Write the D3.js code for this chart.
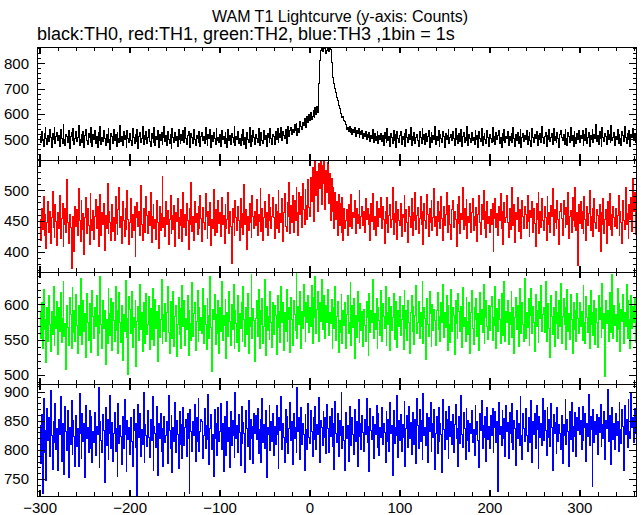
<!DOCTYPE html>
<html><head><meta charset="utf-8">
<script src="https://cdn.jsdelivr.net/npm/d3@7"></script>
<style>html,body{margin:0;padding:0;background:#fff}svg{display:block}</style>
</head><body><svg id="c" width="643" height="515"></svg>
<script>
// time bins: 1 bin = 1 s, first bin at t = -300 s
const binStart = -300;
const binSize = 1;

// TH0 (black) counts per bin
const th0 = [
512,488,531,495,470,523,548,501,479,515,492,537,506,468,521,498,545,483,510,527,
494,516,472,539,503,485,558,497,476,520,509,488,534,463,511,526,495,542,481,504,
529,491,507,553,474,498,517,486,532,469,513,540,496,480,522,505,489,547,471,518,
500,536,483,512,466,527,494,551,479,508,490,533,502,475,519,487,544,498,461,524,
509,482,538,495,517,471,528,503,486,556,492,511,477,530,499,515,468,535,504,489,
521,496,474,543,508,483,519,492,537,465,510,527,488,502,549,478,514,497,532,485,
506,539,491,470,524,503,487,545,476,512,498,534,469,517,493,528,481,507,552,490,
515,477,531,499,484,520,463,541,505,488,526,494,511,473,538,500,482,519,496,533,
487,548,502,478,513,529,491,466,522,507,485,540,497,475,516,503,488,530,471,511,
525,493,509,482,546,498,474,518,504,537,469,514,490,527,501,480,543,495,508,486,
519,472,535,497,511,484,528,502,467,540,493,516,479,523,505,489,550,476,510,498,
531,485,503,474,520,496,539,481,508,463,526,500,487,545,472,514,492,533,506,478,
517,501,489,541,476,509,527,494,482,536,498,515,470,523,507,488,544,501,479,520,
512,478,531,497,541,489,521,506,548,493,529,515,501,538,484,524,552,510,533,546,
519,540,527,557,535,562,514,544,528,571,549,538,566,553,582,559,545,588,567,596,
574,605,579,591,612,586,625,598,630,607,718,812,852,868,846,872,858,865,839,851,
862,848,870,855,803,771,742,719,701,683,664,651,632,621,603,598,584,591,573,569,
557,539,548,532,551,526,543,519,537,528,546,512,534,522,541,508,529,517,536,503,
524,511,532,498,519,506,527,491,515,502,538,487,521,495,509,530,484,513,499,522,
490,516,475,527,503,489,541,496,512,470,523,507,482,535,494,518,467,529,501,486,
514,532,480,509,497,522,473,538,505,488,517,499,545,476,511,493,526,484,507,520,
496,471,529,508,485,543,500,517,478,523,491,512,534,469,506,527,489,515,498,552,
481,510,495,536,472,519,504,488,531,509,466,524,497,513,540,482,507,520,493,529,
502,477,544,499,516,485,521,492,537,470,511,528,487,506,495,549,474,518,503,489,
526,494,508,481,533,500,515,468,529,504,490,541,476,512,523,497,483,536,507,471,
518,503,487,545,492,510,478,527,499,514,535,482,506,469,522,495,540,488,511,501,
531,476,509,493,524,486,548,502,473,517,496,528,484,512,539,467,505,521,490,514,
499,536,480,511,527,494,470,543,508,489,519,502,532,475,513,497,524,486,550,505,
482,509,525,471,516,498,537,490,506,521,478,544,495,510,486,528,503,467,519,534,
507,493,518,480,539,501,474,526,512,488,547,496,515,472,530,505,484,521,499,536,
489,514,502,533,477,520,496,541,483,508,525,470,513,498,537,486,519,504,560,492,
516,481,529,503,472,545,507,490,522,511,478,534,499,517,486,553,495,508,528,474,
510,497,538,485,519,502,476,531,513,491,549,505,482,524,500,536,471,518,507,543,
494,521,486,512];

// TH1 (red) counts per bin
const th1 = [
452,418,471,436,489,427,460,405,447,482,431,466,413,455,498,440,423,476,449,410,
463,437,492,421,454,479,408,445,470,432,517,448,414,461,439,372,425,457,401,474,
441,469,427,503,450,416,483,436,462,395,456,488,429,471,443,412,495,452,434,467,
420,458,485,438,473,409,451,493,426,464,444,478,402,459,437,511,430,466,447,418,
476,433,455,419,490,446,428,468,505,439,457,414,482,450,424,471,436,499,453,411,
448,486,423,461,435,474,392,456,480,441,465,427,508,444,418,470,451,432,489,459,
429,466,443,497,415,458,476,438,452,420,484,447,406,473,435,462,522,440,456,425,
481,444,467,412,453,491,430,459,436,475,408,463,449,487,422,455,442,468,416,496,
439,460,426,478,450,403,470,445,513,433,457,419,482,448,462,428,474,437,491,454,
417,472,447,436,495,458,421,465,443,480,410,452,438,501,426,469,455,431,484,446,
463,425,488,444,459,414,476,437,452,497,430,466,441,381,470,448,426,483,456,434,
474,451,419,486,440,462,428,510,445,468,404,457,435,479,447,423,491,458,438,466,
443,485,427,461,449,502,433,470,418,456,481,439,464,426,493,451,472,437,458,488,
455,421,477,438,466,499,431,462,448,487,416,463,495,441,433,480,457,512,429,475,
448,491,432,483,451,505,464,427,497,460,489,439,511,468,444,501,475,452,518,472,
458,521,482,537,449,515,548,491,530,466,544,502,553,477,540,511,558,469,532,497,
545,478,527,451,519,466,505,438,497,452,481,426,493,442,478,431,488,419,470,437,
450,468,427,476,441,459,493,438,464,455,483,429,470,446,461,499,437,457,474,443,
466,432,487,452,471,445,460,419,478,449,495,436,458,427,481,463,441,470,455,488,
437,473,452,414,466,446,488,431,459,476,440,453,504,428,462,447,482,420,469,451,
443,478,425,461,455,492,433,468,447,415,474,457,439,486,426,463,450,497,436,459,
472,430,454,489,445,466,412,479,451,438,493,460,424,471,448,483,435,456,502,441,
458,426,481,449,465,437,490,454,418,473,443,461,496,432,457,475,445,420,468,484,
439,466,452,408,477,446,489,429,462,453,505,436,470,442,485,421,458,447,479,431,
464,487,434,457,443,472,417,460,491,448,428,476,452,499,437,465,423,481,446,458,
431,469,445,478,400,454,486,439,462,427,473,450,495,438,465,411,480,448,456,492,
447,423,471,436,459,504,442,477,415,464,452,488,433,468,445,421,483,457,437,474,
461,438,492,449,424,467,455,481,432,470,446,409,478,453,497,429,466,440,486,451,
435,473,456,418,490,444,463,431,475,457,502,426,469,448,437,484,452,412,466,479,
454,427,483,461,439,472,445,496,422,458,467,431,488,450,441,505,435,463,377,476,
446,481,437,465,429,490,453,418,474,442,462,499,434,457,471,425,486,448,438,468,
459,433,476,401,464,445,487,429,452,469,414,481,443,495,436,461,427,473,455,441,
470,438,459,492,427,466,448,414,483,451,436,505,444,462,421,477,452,488,433,519,
466,497,428,512];

// TH2 (green) counts per bin
const th2 = [
588,552,603,537,621,564,579,518,596,548,612,571,533,590,557,626,541,583,566,604,
529,595,562,617,546,580,633,555,573,508,599,567,541,610,585,538,624,560,592,547,
614,570,531,598,556,637,579,543,606,562,587,524,615,575,549,601,568,532,620,583,
551,596,569,613,527,584,559,640,572,538,605,566,591,515,578,545,622,587,556,609,
535,603,577,548,626,563,592,530,617,574,546,599,521,586,561,634,553,580,501,611,
593,558,619,539,582,567,605,512,576,597,549,628,564,588,533,602,571,545,615,557,
572,611,536,594,550,623,581,541,607,566,590,519,599,553,578,636,544,586,562,601,
547,589,625,560,531,604,575,552,618,540,583,598,526,571,610,557,594,537,627,569,
606,541,580,565,612,528,592,573,549,631,555,587,603,535,576,620,548,596,563,582,
558,622,545,598,571,536,609,584,552,640,567,505,593,578,614,543,586,559,605,530,
595,561,632,549,584,570,607,523,589,554,618,576,541,600,565,628,537,591,573,546,
612,533,587,566,603,548,625,579,540,596,557,615,531,582,569,642,552,594,577,519,
580,605,554,621,538,591,572,609,545,568,636,527,597,563,583,550,618,574,539,602,
557,599,584,529,613,567,590,546,626,575,603,535,588,562,621,548,579,595,532,610,
578,541,606,586,563,645,551,597,572,619,538,590,566,628,583,547,602,574,612,560,
595,568,627,544,610,581,640,559,593,618,547,602,576,636,565,588,613,551,598,574,
621,556,589,573,607,538,595,566,625,549,583,604,532,577,560,614,545,591,570,603,
537,586,612,558,575,631,542,598,567,609,523,584,553,619,576,546,601,563,590,540,
593,570,547,604,581,528,616,560,592,574,635,551,587,565,608,538,596,577,556,620,
548,601,583,566,625,542,589,571,610,534,597,563,582,615,550,578,604,539,592,569,
611,556,579,598,536,620,566,591,549,606,574,530,588,613,561,597,543,584,627,558,
575,604,551,589,568,632,545,596,580,522,609,571,555,618,587,540,600,563,593,577,
541,592,617,564,583,548,603,575,628,553,588,567,612,535,599,572,546,621,562,595,
584,529,606,573,552,615,590,561,597,539,624,569,582,548,610,576,557,603,531,588,
620,566,543,596,578,609,554,587,535,617,572,593,560,628,545,581,605,568,550,599,
563,597,611,549,582,570,626,538,594,561,607,578,544,615,585,556,633,547,590,574,
606,543,588,572,619,553,596,530,581,610,564,599,540,623,577,558,602,571,548,637,
552,589,567,608,541,584,622,559,597,575,533,614,568,591,546,604,580,627,562,586,
595,560,633,548,578,601,566,525,612,583,557,596,540,618,573,589,551,606,569,630,
544,583,608,571,596,536,621,562,587,550,614,578,531,603,565,592,547,616,580,558,
603,568,590,549,627,574,545,611,582,560,598,537,620,571,588,556,606,543,594,575,
539,612,578,596,553,630,566,587,497,605,573,591,548,617,581,560,643,552,599,570,
586,547,622,564,601,533,593,576,614,545,589,568,628,551,605,579,538,612,566,597,
574,610,546,589];

// TH3 (blue) counts per bin
const th3 = [
842,776,861,726,889,795,833,748,871,817,856,789,902,824,767,848,812,879,801,836,
764,853,827,892,781,845,816,758,874,832,799,867,753,838,809,884,792,851,823,771,
859,806,837,772,897,828,785,862,814,845,752,876,820,839,795,868,803,857,779,831,
813,864,790,841,826,907,770,849,817,796,861,834,744,872,808,853,784,829,893,802,
847,781,829,865,798,836,755,880,811,842,823,775,858,803,887,827,763,851,818,839,
792,856,814,771,869,833,805,846,722,878,821,862,788,835,810,898,779,843,825,806,
868,822,787,853,816,891,765,840,828,804,874,757,845,819,862,797,836,771,857,812,
825,848,776,893,834,802,859,761,838,814,881,796,850,827,768,866,809,843,786,873,
807,838,852,788,863,819,725,870,832,797,849,824,878,781,856,815,889,798,831,852,
849,786,824,871,803,842,818,895,775,836,861,800,827,754,869,820,846,791,873,814,
832,879,801,845,763,857,826,791,883,814,839,770,866,808,851,824,787,898,819,842,
796,861,830,774,874,811,847,829,762,868,837,806,885,783,853,819,840,776,862,828,
859,818,871,794,835,852,779,888,813,844,803,867,752,838,826,877,799,849,815,863,
790,841,809,876,827,768,855,834,892,801,845,821,778,869,812,858,794,837,882,816,
848,775,863,820,839,796,907,831,855,784,873,810,846,827,765,861,835,800,879,822,
811,867,832,789,856,818,875,801,843,826,890,779,851,838,807,866,821,855,794,878,
836,795,858,823,871,806,846,767,883,829,812,862,788,851,825,899,803,840,817,764,
864,819,842,781,875,834,808,856,827,793,869,815,848,772,886,823,845,801,859,830,
798,853,826,889,812,840,763,871,834,818,857,785,843,827,876,804,862,790,838,821,
873,809,845,830,778,866,815,852,797,881,828,842,756,868,811,839,824,894,787,850,
817,861,798,844,822,883,771,836,859,805,874,819,847,792,865,828,810,853,776,888,
842,803,869,815,851,784,896,825,838,808,863,779,856,831,882,797,845,821,869,767,
829,857,794,873,814,846,827,762,887,835,801,866,818,852,786,875,823,848,809,861,
795,844,878,820,837,772,858,811,893,826,804,864,837,783,871,816,851,798,846,829,
868,812,835,791,877,827,849,816,770,862,833,885,803,842,821,857,780,873,818,840,
803,859,824,871,795,838,866,812,848,728,882,826,841,807,868,819,854,789,876,832,
847,786,865,829,813,879,801,851,836,774,867,820,845,808,891,825,783,862,837,814,
871,824,797,856,839,812,884,779,848,826,863,802,877,835,768,858,821,846,807,889,
816,867,834,790,873,821,852,806,879,838,765,861,829,847,794,872,815,843,828,801,
859,776,844,825,887,809,853,831,772,866,818,881,797,840,823,864,789,855,833,873,
827,850,801,874,816,839,863,781,846,823,895,808,857,835,738,869,812,848,826,861,
792,855,830,878,806,843,819,866,783,851,837,904,814,859,829,775,872,818,845,801,
863,824,848,797,881,835,811,869,841,764,876,827,853,804,887,832,819,897,838,856,
812,871,829,884];

const seriesNames = ["TH0", "TH1", "TH2", "TH3"];
const seriesColors = ["#000000", "#ff0000", "#00ff00", "#0000ff"];
const seriesValues = [th0, th1, th2, th3];

// y-axis ranges and ticks per panel
const yDomains = [[418, 864], [367, 549], [487, 646], [721, 913]];
const yMajorTicks = [[500, 600, 700, 800], [400, 450, 500], [500, 550, 600], [750, 800, 850, 900]];
const yMinorSteps = [20, 10, 10, 10];

// x-axis
const xDomain = [-303.5, 363.5];
const xMajorTicks = [-300, -200, -100, 0, 100, 200, 300];
const xMinorStep = 20;

const titleText = "WAM T1 Lightcurve (y-axis: Counts)";
const subtitleText = "black:TH0, red:TH1, green:TH2, blue:TH3 ,1bin = 1s";

// ---- layout ----
const W = 643, H = 515;
const left = 37, right = 637;
const panelTops = [47, 160, 272, 384];
const panelBottom = 496;
const font = "'Liberation Sans', Arial, Helvetica, sans-serif";

const svg = d3.select("#c");
const x = d3.scaleLinear().domain(xDomain).range([left, right]);

svg.append("text").attr("x", 340).attr("y", 22).attr("text-anchor", "middle")
  .attr("font-family", font).attr("font-size", 16).attr("fill", "#000").text(titleText);
svg.append("text").attr("x", 37).attr("y", 40).attr("text-anchor", "start")
  .attr("font-family", font).attr("font-size", 18).attr("fill", "#000").text(subtitleText);

const defs = svg.append("defs");

seriesValues.forEach((vals, p) => {
  const top = panelTops[p];
  const bottom = p < 3 ? panelTops[p + 1] : panelBottom;
  const y = d3.scaleLinear().domain(yDomains[p]).range([bottom, top]);
  const g = svg.append("g");

  defs.append("clipPath").attr("id", "clip" + p)
    .append("rect").attr("x", left).attr("y", top).attr("width", right - left).attr("height", bottom - top);

  // histogram-style steps, one bin per second
  const line = d3.line()
    .curve(d3.curveStep)
    .x((d, i) => x(binStart + i * binSize))
    .y(d => y(d));

  g.append("path").datum(vals)
    .attr("clip-path", "url(#clip" + p + ")")
    .attr("fill", "none").attr("stroke", seriesColors[p]).attr("stroke-width", 1)
    .attr("shape-rendering", "crispEdges")
    .attr("d", line);

  // frame
  g.append("rect").attr("x", left + 0.5).attr("y", top + 0.5)
    .attr("width", right - left - 1).attr("height", bottom - top)
    .attr("fill", "none").attr("stroke", "#000").attr("stroke-width", 1)
    .attr("shape-rendering", "crispEdges");

  // y ticks (major + minor, both sides, inward)
  const [d0, d1] = yDomains[p];
  const minor = d3.range(Math.ceil(d0 / yMinorSteps[p]) * yMinorSteps[p], d1, yMinorSteps[p]);
  minor.forEach(v => {
    const isMajor = yMajorTicks[p].includes(v);
    const len = isMajor ? 8 : 4;
    const yy = Math.round(y(v)) + 0.5;
    g.append("line").attr("x1", left).attr("x2", left + len).attr("y1", yy).attr("y2", yy)
      .attr("stroke", "#000").attr("shape-rendering", "crispEdges");
    g.append("line").attr("x1", right).attr("x2", right - len).attr("y1", yy).attr("y2", yy)
      .attr("stroke", "#000").attr("shape-rendering", "crispEdges");
  });
  yMajorTicks[p].forEach(v => {
    g.append("text").attr("x", 29).attr("y", y(v)).attr("dy", "0.36em")
      .attr("text-anchor", "end").attr("font-family", font).attr("font-size", 15)
      .attr("fill", "#000").text(v);
  });

  // x ticks (top and bottom, inward)
  const xm = d3.range(Math.ceil(xDomain[0] / xMinorStep) * xMinorStep, xDomain[1], xMinorStep);
  xm.forEach(v => {
    const isMajor = xMajorTicks.includes(v);
    const len = isMajor ? 6 : 4;
    const sw = isMajor ? 2 : 1;
    const xx = isMajor ? Math.round(x(v)) : Math.round(x(v)) + 0.5;
    [[top, top + len], [bottom, bottom - len]].forEach(([a, b]) => {
      g.append("line").attr("x1", xx).attr("x2", xx).attr("y1", a).attr("y2", b)
        .attr("stroke", "#000").attr("stroke-width", sw).attr("shape-rendering", "crispEdges");
    });
  });
});

// bottom x labels
xMajorTicks.forEach(v => {
  svg.append("text").attr("x", x(v)).attr("y", 513).attr("text-anchor", "middle")
    .attr("font-family", font).attr("font-size", 15).attr("fill", "#000")
    .text(v < 0 ? "\u2212" + Math.abs(v) : String(v));
});
</script>
</body></html>
